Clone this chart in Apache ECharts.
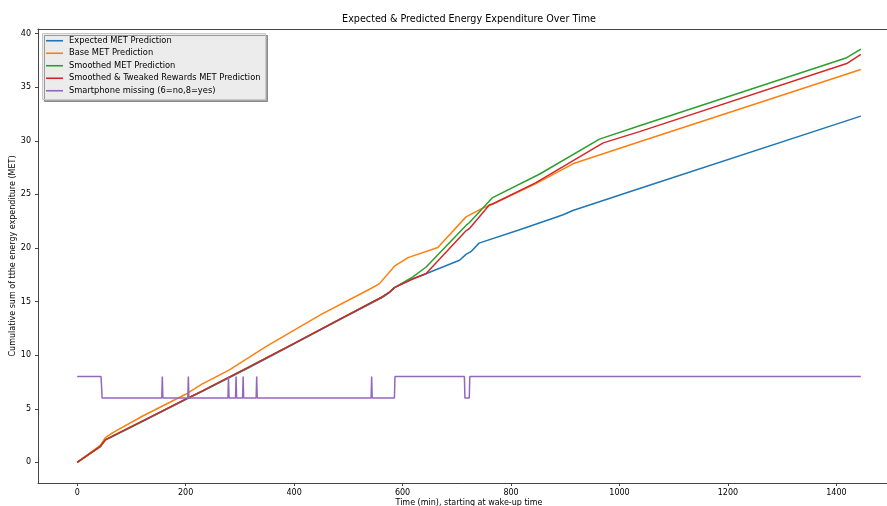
<!DOCTYPE html>
<html>
<head>
<meta charset="utf-8">
<script src="https://cdn.jsdelivr.net/npm/echarts@6/dist/echarts.min.js"></script>
<style>html,body{margin:0;padding:0;background:#fff}#c{width:887px;height:506px}</style>
</head>
<body>
<div id="c"></div>
<script>
// ---- data (time in minutes, cumulative MET) ----
var seriesNames = [
  'Expected MET Prediction',
  'Base MET Prediction',
  'Smoothed MET Prediction',
  'Smoothed & Tweaked Rewards MET Prediction',
  'Smartphone missing (6=no,8=yes)'
];
var expectedMET = [[0,0],[43,1.5],[52,2.1],[65,2.4],[120,3.8],[200,5.85],[230,6.6],[317,8.85],[400,11.05],[480,13.2],[563,15.4],[575,15.8],[585,16.3],[612,17.0],[643,17.6],[705,18.85],[717,19.4],[726,19.65],[741,20.45],[813,21.65],[871,22.65],[896,23.1],[914,23.5],[1037,25.55],[1445,32.3]];
var baseMET = [[0,0],[43,1.6],[52,2.3],[65,2.75],[120,4.3],[200,6.35],[230,7.3],[280,8.6],[348,10.8],[450,13.8],[539,16.15],[557,16.65],[585,18.3],[610,19.1],[665,20.05],[717,22.9],[745,23.65],[766,24.1],[846,26.0],[914,27.85],[1037,29.9],[1445,36.65]];
var smoothedMET = [[0,0],[43,1.5],[52,2.1],[65,2.45],[120,3.85],[200,5.9],[230,6.65],[317,8.9],[400,11.1],[480,13.25],[563,15.45],[575,15.85],[585,16.3],[619,17.3],[643,18.2],[717,22.1],[723,22.35],[766,24.7],[853,26.9],[963,30.15],[1037,31.4],[1419,37.75],[1445,38.55]];
var tweakedMET = [[0,0],[43,1.5],[52,2.1],[65,2.45],[120,3.85],[200,5.9],[230,6.65],[317,8.9],[400,11.1],[480,13.25],[563,15.45],[575,15.85],[585,16.3],[619,17.1],[643,17.6],[717,21.6],[723,21.8],[760,24.0],[766,24.1],[846,26.1],[970,29.8],[1037,30.85],[1419,37.2],[1445,38.05]];
var phoneMissing = [[0,8],[44,8],[46,6],[156,6],[157,8],[158,6],[204,6],[205,8],[206,6],[278,6],[279,8],[280,6],[292,6],[293,8],[294,6],[305,6],[306,8],[307,6],[330,6],[331,8],[332,6],[542,6],[543,8],[544,6],[585,6],[586,8],[714,8],[715,6],[723,6],[724,8],[1445,8]];
var xTicks = [0,200,400,600,800,1000,1200,1400];
var yTicks = [0,5,10,15,20,25,30,35,40];
var colors = ['#1f77b4','#ff7f0e','#2ca02c','#d62728','#9467bd'];

var titleText = 'Expected & Predicted Energy Expenditure Over Time';
var FONT = 'DejaVu Sans';
var titleSize = 9.6;
var cv = document.createElement('canvas').getContext('2d');
cv.font = titleSize + 'px "' + FONT + '"';
var tw = cv.measureText(titleText).width;
var plotCenter = 469;

var chart = echarts.init(document.getElementById('c'), null, {renderer:'canvas'});
var allData = [expectedMET, baseMET, smoothedMET, tweakedMET, phoneMissing];
var series = allData.map(function(d, i){
  return {
    name: seriesNames[i], type: 'line', data: d, showSymbol: false, symbol: 'none',
    lineStyle: {color: colors[i], width: 1.5}, itemStyle: {color: colors[i]},
    clip: true, animation: false
  };
});
function plain(v){ return String(v); }
var XMIN = -72.25, XMAX = 1517.25;
chart.setOption({
  animation: false,
  backgroundColor: '#fff',
  textStyle: {fontFamily: FONT},
  title: {
    text: titleText, left: plotCenter - tw/2, top: 14.5, padding: 0,
    textStyle: {fontFamily: FONT, fontSize: titleSize, fontWeight: 'normal', color: '#000'}
  },
  legend: {
    orient: 'vertical', left: 42.5, top: 33.5,
    padding: [1, 5, 2.5, 3.5],
    icon: 'rect', itemWidth: 17, itemHeight: 1.6, itemGap: 0,
    backgroundColor: '#ececec', borderColor: '#c8c8c8', borderWidth: 1, borderRadius: 0,
    shadowColor: 'rgba(0,0,0,0.35)', shadowOffsetX: 2, shadowOffsetY: 2, shadowBlur: 0,
    textStyle: {fontFamily: FONT, fontSize: 8.3, lineHeight: 12.5, color: '#000', padding: [0,0,0,1]},
    data: seriesNames
  },
  grid: {left: 38, top: 29, right: -13, bottom: 23, show: false,
         containLabel: false, outerBoundsMode: 'none'},
  xAxis: [{
    type: 'value', min: XMIN, max: XMAX, position: 'bottom',
    name: 'Time (min), starting at wake-up time', nameLocation: 'middle', nameGap: 16, nameMoveOverlap: false,
    nameTextStyle: {fontFamily: FONT, fontSize: 8, color: '#000'},
    axisLine: {show: true, onZero: false, lineStyle: {color: '#444', width: 1}},
    axisTick: {show: true, length: 3, inside: false, customValues: xTicks, lineStyle: {color: '#444'}},
    axisLabel: {customValues: xTicks, formatter: plain, fontFamily: FONT, fontSize: 8, color: '#000', margin: 6},
    splitLine: {show: false}
  }, {
    type: 'value', min: XMIN, max: XMAX, position: 'top',
    axisLine: {show: true, onZero: false, lineStyle: {color: '#444', width: 1}},
    axisTick: {show: false}, axisLabel: {show: false}, splitLine: {show: false}
  }],
  yAxis: {
    type: 'value', min: -1.925, max: 40.425,
    name: 'Cumulative sum of tthe energy expenditure (MET)', nameLocation: 'middle', nameGap: 21, nameMoveOverlap: false,
    nameTextStyle: {fontFamily: FONT, fontSize: 8, color: '#000'},
    axisLine: {show: true, onZero: false, lineStyle: {color: '#444', width: 1}},
    axisTick: {show: true, length: 3, inside: false, customValues: yTicks, lineStyle: {color: '#444'}},
    axisLabel: {customValues: yTicks, formatter: plain, fontFamily: FONT, fontSize: 8, color: '#000', margin: 7},
    splitLine: {show: false}
  },
  series: series
});
</script>
</body>
</html>
